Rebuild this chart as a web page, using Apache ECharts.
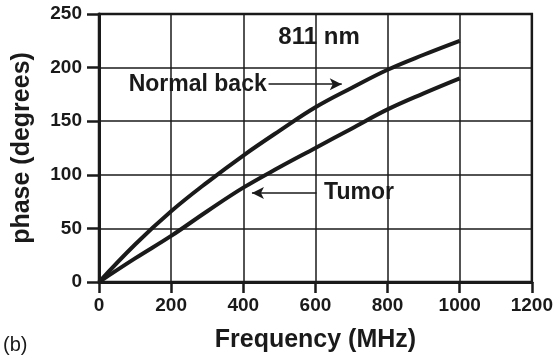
<!DOCTYPE html>
<html><head><meta charset="utf-8">
<script src="https://cdn.jsdelivr.net/npm/echarts@6/dist/echarts.min.js"></script>
<style>html,body{margin:0;padding:0;background:#fff}#c{width:556px;height:358px}</style>
</head><body><div id="c"></div>
<script>
const frequency = [0, 100, 200, 300, 400, 500, 600, 700, 800, 900, 1000];
const normalBack = [0, 35, 66, 93, 118, 141, 163, 181, 198, 212, 225];
const tumor = [0, 22, 43, 66, 88, 107, 125, 143, 161, 176, 190];
const xTicks = [0, 200, 400, 600, 800, 1000, 1200];
const yTicks = [0, 50, 100, 150, 200, 250];

const chart = echarts.init(document.getElementById('c'), null, {renderer: 'canvas'});
const FONT = '"Liberation Sans", Arial, Helvetica, sans-serif';
const ink = '#1a1a1a';
function pairs(xs, ys) { return xs.map((x, i) => [x, ys[i]]); }

chart.setOption({
  animation: false,
  backgroundColor: '#fff',
  grid: {left: 99, right: 24, top: 14, bottom: 73, show: true, borderColor: ink, borderWidth: 2.5},
  xAxis: {
    type: 'value', min: 0, max: 1200, interval: 200,
    name: 'Frequency (MHz)', nameLocation: 'middle', nameGap: 46,
    nameTextStyle: {fontFamily: FONT, fontWeight: 'bold', fontSize: 25, color: ink},
    axisLine: {show: true, onZero: false, lineStyle: {color: ink, width: 3}},
    axisTick: {show: true, inside: false, length: 11, lineStyle: {color: ink, width: 2.5}},
    axisLabel: {fontFamily: FONT, fontWeight: 'bold', fontSize: 19, color: ink, margin: 14,
      formatter: v => xTicks.includes(v) ? String(v) : ''},
    splitLine: {show: true, lineStyle: {color: ink, width: 1.5}}
  },
  yAxis: {
    type: 'value', min: 0, max: 250, interval: 50,
    name: 'phase (degrees)', nameLocation: 'middle', nameGap: 64, nameRotate: 90,
    nameTextStyle: {fontFamily: FONT, fontWeight: 'bold', fontSize: 25, color: ink},
    axisLine: {show: true, onZero: false, lineStyle: {color: ink, width: 3}},
    axisTick: {show: true, inside: false, length: 12, lineStyle: {color: ink, width: 2.5}},
    axisLabel: {fontFamily: FONT, fontWeight: 'bold', fontSize: 19, color: ink, margin: 17,
      formatter: v => yTicks.includes(v) ? String(v) : ''},
    splitLine: {show: true, lineStyle: {color: ink, width: 1.5}}
  },
  series: [
    {
      name: 'Normal back', type: 'line', data: pairs(frequency, normalBack),
      smooth: 0.4, showSymbol: false, lineStyle: {color: ink, width: 4}, z: 5,
      markLine: {
        silent: true, symbol: ['none', 'arrow'], symbolSize: [9, 12],
        lineStyle: {color: ink, width: 1.5, type: 'solid'}, label: {show: false},
        data: [[{coord: [470, 184.5]}, {coord: [673, 184.5]}]]
      }
    },
    {
      name: 'Tumor', type: 'line', data: pairs(frequency, tumor),
      smooth: 0.4, showSymbol: false, lineStyle: {color: ink, width: 4}, z: 5,
      markLine: {
        silent: true, symbol: ['none', 'arrow'], symbolSize: [9, 12],
        lineStyle: {color: ink, width: 1.5, type: 'solid'}, label: {show: false},
        data: [[{coord: [603, 83]}, {coord: [424, 83]}]]
      }
    }
  ]
});

function px(x, y) { return chart.convertToPixel({gridIndex: 0}, [x, y]); }
const p811 = px(610, 228), pNorm = px(465, 184.5), pTum = px(624, 83);
chart.setOption({
  graphic: [
    {type: 'text', x: p811[0], y: p811[1], style: {text: '811 nm', font: 'bold 24px ' + FONT, fill: ink, textAlign: 'center', textVerticalAlign: 'middle'}},
    {type: 'text', x: pNorm[0], y: pNorm[1], style: {text: 'Normal back', font: 'bold 23px ' + FONT, fill: ink, textAlign: 'right', textVerticalAlign: 'middle'}},
    {type: 'text', x: pTum[0], y: pTum[1], style: {text: 'Tumor', font: 'bold 23px ' + FONT, fill: ink, textAlign: 'left', textVerticalAlign: 'middle'}},
    {type: 'text', left: 3, top: 335, style: {text: '(b)', font: '20px ' + FONT, fill: ink}}
  ]
});
</script></body></html>
